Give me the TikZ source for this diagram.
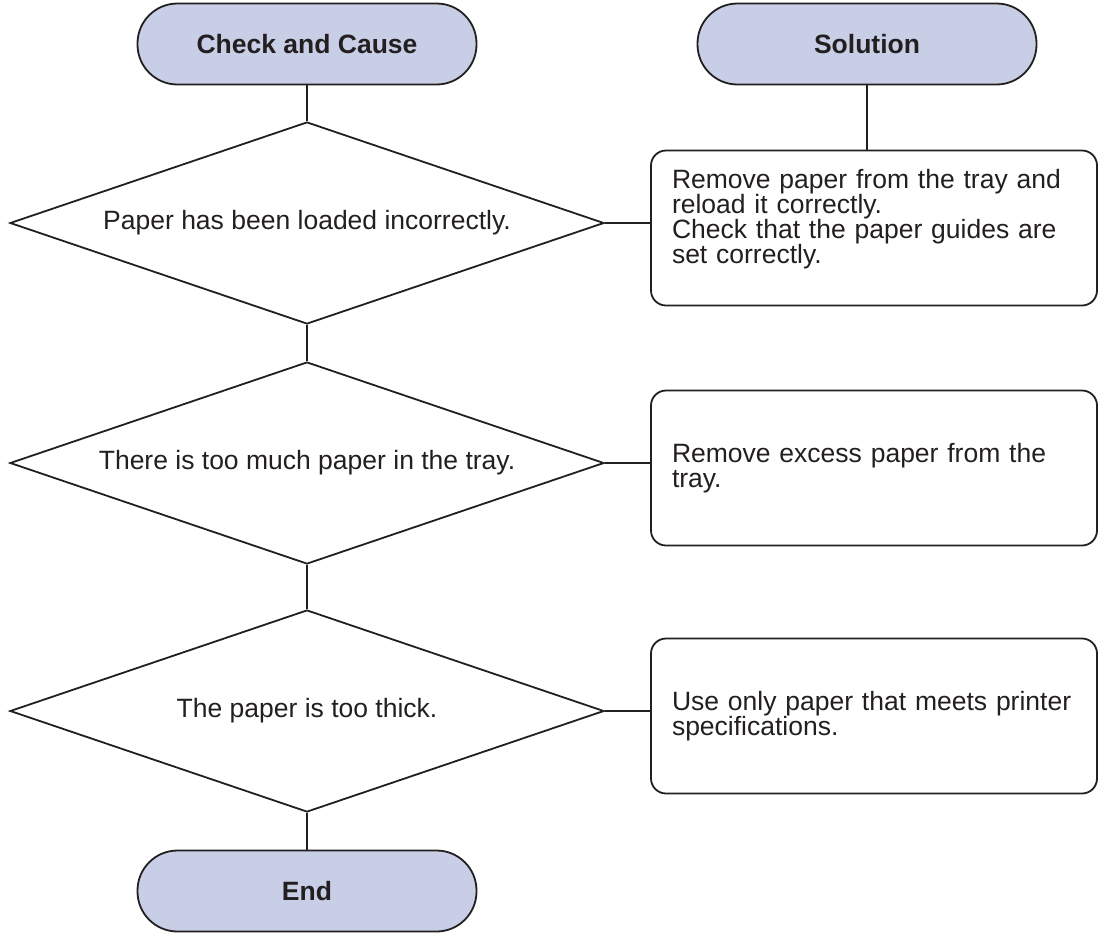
\documentclass[tikz,border=0pt]{standalone}
\usepackage{fontspec}
\setmainfont{Liberation Sans}
\usetikzlibrary{shapes.geometric}
\definecolor{termfill}{RGB}{201,206,231}
\definecolor{inkgray}{RGB}{35,31,32}

\begin{document}
\begin{tikzpicture}[x=1pt, y=-1pt, line width=1.8pt, color=inkgray,
    font=\fontsize{26.5}{25}\selectfont,
    terminal/.style={draw, fill=termfill, rounded corners=40pt, minimum width=339pt,
      minimum height=81pt, font=\fontsize{26.5}{25}\selectfont\bfseries},
    check/.style={draw, diamond, aspect=2.94, inner sep=0pt, minimum width=594pt,
      minimum height=202pt},
    remedy/.style={draw, rounded corners=15pt, minimum height=155pt, text width=404pt,
      inner xsep=21pt, align=left}]
    \useasboundingbox (0,0) rectangle (1099,946);
    % headings
    \node[terminal] (cause) at (307,44) {Check and Cause};
    \node[terminal] (solution) at (867,44) {Solution};
    % checks on the left
    \node[check] (c1) at (307,223) {Paper has been loaded incorrectly.};
    \node[check] (c2) at (307,463) {There is too much paper in the tray.};
    \node[check] (c3) at (307,711) {The paper is too thick.};
    \node[terminal] (finish) at (307,891) {End};
    % solutions on the right
    \node[remedy] (s1) at (874,228) {Remove paper from the tray and\\reload it correctly.\\Check that the paper guides are\\set correctly.\par\vspace{18pt}};
    \node[remedy] (s2) at (874,468) {Remove excess paper from the\\tray.};
    \node[remedy] (s3) at (874,716) {Use only paper that meets printer\\specifications.};
    % connectors
    \draw (cause) -- (c1);
    \draw (c1) -- (c2);
    \draw (c2) -- (c3);
    \draw (c3) -- (finish);
    \draw (solution.south) -- (solution.south |- s1.north);
    \draw (c1.east) -- (c1.east -| s1.west);
    \draw (c2.east) -- (c2.east -| s2.west);
    \draw (c3.east) -- (c3.east -| s3.west);
  \end{tikzpicture}
\end{document}
